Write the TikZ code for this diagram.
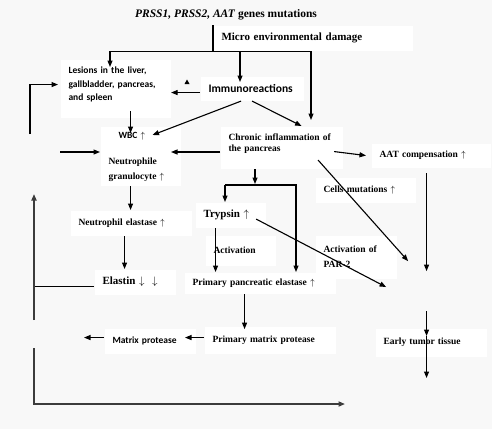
\documentclass[tikz,border=0pt]{standalone}
\usepackage{fontspec}
\setmainfont{Liberation Serif}
\newfontfamily\calib{Carlito}
\usetikzlibrary{arrows.meta}
\definecolor{bggray}{HTML}{F8F8F8}
\definecolor{framegray}{HTML}{3C3C3C}

\begin{document}
\begin{tikzpicture}[x=1pt,y=-1pt,>={Triangle[length=6.5pt,width=5pt]},line width=1.1pt,
 box/.style={fill=white,inner xsep=8pt,inner ysep=2pt,align=left,anchor=north west,
  font=\bfseries\fontsize{9.5}{15}\selectfont},
 sbox/.style={box,font=\calib\bfseries\fontsize{9.5}{13.5}\selectfont},
 bigbox/.style={box,font=\bfseries\fontsize{11}{13}\selectfont},
 frame/.style={draw=framegray,line width=1.6pt}]
\useasboundingbox (0,0) rectangle (500,442);
\fill[bggray] (0,0) rectangle (492,429);

\node[font=\bfseries\fontsize{11.5}{13}\selectfont] (title) at (226,15) {\textit{PRSS1, PRSS2, AAT} genes mutations};
\node[box,font=\bfseries\fontsize{11}{13}\selectfont,text width=183,minimum height=25] (micro) at (213,25) {Micro environmental damage};
\node[sbox,text width=94,minimum height=58] (lesions) at (60,59) {Lesions in the liver,\\gallbladder, pancreas,\\and spleen\\[-4pt]\mbox{}};
\node[sbox,font=\calib\bfseries\fontsize{11.5}{13}\selectfont,text width=87,minimum height=24] (immuno) at (200,76) {Immunoreactions};
\node[box,text width=64,minimum height=59] (wbc) at (100,126) {\mbox{}\\[-7pt]\hspace*{10pt}{\calib WBC} $\uparrow$\\[11pt]Neutrophile\\granulocyte $\uparrow$};
\node[box,text width=106,minimum height=42,font=\bfseries\fontsize{9.5}{11.5}\selectfont] (chronic) at (220,126) {Chronic inflammation of\\the pancreas\\[-1.5pt]\mbox{}};
\node[box,text width=103,minimum height=24] (aat) at (371,143) {AAT compensation $\uparrow$};
\node[box,text width=84,minimum height=25] (cells) at (315,177) {Cells mutations $\uparrow$};
\node[bigbox,text width=54,minimum height=25] (trypsin) at (195,202) {Trypsin $\uparrow$};
\node[box,text width=54,minimum height=30] (activ) at (205,235) {Activation};
\node[box,text width=65,minimum height=43] (par) at (315,235) {Activation of\\PAR-2};
\node[box,text width=135,minimum height=21] (ppe) at (184,272) {Primary pancreatic elastase $\uparrow$};
\node[box,text width=115,minimum height=27] (pmp) at (204,326) {Primary matrix protease};
\node[sbox,text width=75,minimum height=25] (mp) at (104,328) {Matrix protease};
\node[bigbox,text width=65,minimum height=25] (elastin) at (94,269) {Elastin~$\downarrow$~~$\downarrow$};
\node[box,text width=105,minimum height=25] (ne) at (70,210) {Neutrophil elastase $\uparrow$};
\node[box,text width=95,minimum height=28] (tumor) at (375,328) {Early tumor tissue};
\fill (184.5,84) -- (189.5,84) -- (187,79.5) -- cycle;

% free ends
\coordinate (c-les) at (110,67);
\coordinate (c-imm) at (240,82);
\coordinate (c-chr) at (311,120);
\coordinate (c-in) at (60,152);
\coordinate (fork) at (255,185);
\coordinate (fork-l) at (225,185);
\coordinate (fork-r) at (296,185);
\coordinate (up-b) at (34,320);
\coordinate (up-t) at (34,194);
\coordinate (lo-t) at (34,348);
\coordinate (lo-c) at (34,404);
\coordinate (lo-e) at (345,404);
\coordinate (ul-b) at (30,134);

\draw (micro.north west) -- (micro.south west);
\draw[->] (micro.south west) -| (c-les);
\draw[->] (micro.south west) -| (c-chr);
\draw[->] (micro.south west -| c-imm) -- (c-imm);
\draw[->] ([yshift=-4pt]immuno.west) -- ([yshift=-4pt]immuno.west -| lesions.east);
\draw[->] ([xshift=-11pt]immuno.south) -- ([xshift=12pt,yshift=-9pt]wbc.north);
\draw[->] (immuno.south) -- ([xshift=20pt]chronic.north);
\draw[->] ([xshift=15pt,yshift=7pt]lesions.south) -- ([xshift=-10pt,yshift=-7pt]wbc.north);
\draw[->] (c-in) -- (c-in -| wbc.west);
\draw[->] (c-in -| chronic.west) -- ++(-49,0);
\draw[->] ([xshift=-9pt,yshift=-4pt]chronic.east) -- ([xshift=-5pt,yshift=0pt]aat.west);
\draw[->] ([xshift=-4.5pt,yshift=-5pt]aat.south) -- ++(0,98);
\draw[->] ([xshift=-25pt,yshift=9pt]chronic.south east) -- ++(90,101);
\draw[->] (fork |- chronic.south) -- ([yshift=1pt]fork);
\draw[->] (fork-l) -- (fork-l |- trypsin.north);
\draw[->] (fork-l) -- (fork-r) -- (fork-r |- ppe.north);
\draw[->] ([xshift=-15pt]trypsin.south) -- ([xshift=-15pt]trypsin.south |- ppe.north);
\draw[->] ([xshift=-10pt,yshift=-4pt]trypsin.east) -- ++(130,68);
\draw[->] ([xshift=-15.5pt]ppe.south) -- ++(0,35);
\draw[->] ([yshift=2.5pt]pmp.west) -- ++(-19,0);
\draw[->] ([yshift=3.5pt]mp.west) -- ++(-20,0);
\draw[->] ([xshift=-10pt]wbc.south) -- ([xshift=-10pt]wbc.south |- ne.north);
\draw[->] ([xshift=-6.5pt]ne.south) -- ([xshift=-6.5pt]ne.south |- elastin.north);
\draw ([yshift=-4.5pt]elastin.west) -- ([yshift=-4.5pt]elastin.west -| up-b);
\draw[->,frame] (up-b) -- (up-t);
\draw[->,frame] (lo-t) -- (lo-c) -- (lo-e);
\draw[->] (ul-b) |- ([xshift=-2pt,yshift=4pt]lesions.west);
\draw[->] ([xshift=-4.5pt,yshift=17pt]tumor.north) -- ++(0,25) coordinate (tm);
\draw[->] (tm) -- ++(0,42);
\end{tikzpicture}
\end{document}
